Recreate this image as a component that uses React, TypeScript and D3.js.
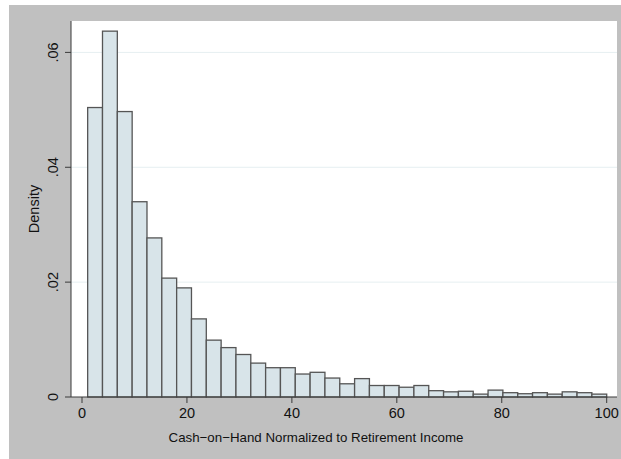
import * as d3 from "d3";

// histogram: 35 equal bins between the sample min and max
const binMin = 1.08;
const binMax = 100;
const densities = [
  0.0504, 0.0637, 0.0497, 0.034, 0.0277, 0.0207, 0.019, 0.0136, 0.0099,
  0.0086, 0.0074, 0.0059, 0.0051, 0.0051, 0.004, 0.0043, 0.0033, 0.0023,
  0.0032, 0.002, 0.002, 0.0017, 0.002, 0.0011, 0.0009, 0.001, 0.0005,
  0.0012, 0.00075, 0.00057, 0.00075, 0.0005, 0.0009, 0.00075, 0.0005,
];
const xTicks = [0, 20, 40, 60, 80, 100];
const yTicks = [0, 0.02, 0.04, 0.06];
const yTickLabels = ["0", ".02", ".04", ".06"];

const W = 621;
const H = 459;
const plot = { left: 71, right: 617, top: 21, bottom: 397 };
const font = "'Liberation Sans', Arial, Helvetica, sans-serif";

export default function App() {
  const x = d3.scaleLinear().domain([0, 100]).range([82, 606.7]);
  const y = d3.scaleLinear().domain([0, 0.06]).range([plot.bottom, 52.4]);
  const binW = (binMax - binMin) / densities.length;

  return (
    <div style={{ position: "fixed", top: 0, left: 0 }}>
      <svg width={W} height={H} style={{ display: "block", background: "#fff" }}>
        <rect x={9} y={5} width={W - 9} height={454} fill="#c0c0c0" />
        <rect
          x={plot.left}
          y={plot.top}
          width={plot.right - plot.left}
          height={plot.bottom - plot.top}
          fill="#fff"
        />
        {/* grid */}
        {yTicks.slice(1).map((t) => (
          <line
            key={t}
            x1={plot.left}
            x2={plot.right}
            y1={y(t)}
            y2={y(t)}
            stroke="#e6eff1"
            strokeWidth={1}
          />
        ))}
        {/* bars */}
        {densities.map((d, i) => {
          const x0 = x(binMin + i * binW);
          const x1 = x(binMin + (i + 1) * binW);
          return (
            <rect
              key={i}
              x={x0}
              y={y(d)}
              width={x1 - x0}
              height={plot.bottom - y(d)}
              fill="#d8e4e9"
              stroke="#555"
              strokeWidth={1.3}
            />
          );
        })}
        {/* axes */}
        <line x1={plot.left} x2={plot.left} y1={plot.top} y2={plot.bottom} stroke="#3a3a3a" />
        <line x1={plot.left} x2={plot.right} y1={plot.bottom} y2={plot.bottom} stroke="#3a3a3a" />
        {yTicks.map((t, i) => (
          <g key={t} transform={`translate(${plot.left},${y(t)})`}>
            <line x1={-6} x2={0} stroke="#3a3a3a" />
            <text
              transform="translate(-13,0) rotate(-90)"
              textAnchor="middle"
              fontFamily={font}
              fontSize={14.5}
              fill="#111"
            >
              {yTickLabels[i]}
            </text>
          </g>
        ))}
        {xTicks.map((t) => (
          <g key={t} transform={`translate(${x(t)},${plot.bottom})`}>
            <line y1={0} y2={6} stroke="#3a3a3a" />
            <text y={21} textAnchor="middle" fontFamily={font} fontSize={14.5} fill="#111">
              {t}
            </text>
          </g>
        ))}
        <text
          transform={`translate(38.5,${(plot.top + plot.bottom) / 2}) rotate(-90)`}
          textAnchor="middle"
          fontFamily={font}
          fontSize={14.5}
          fill="#111"
        >
          Density
        </text>
        <text x={316} y={442} textAnchor="middle" fontFamily={font} fontSize={13.3} fill="#111">
          Cash−on−Hand Normalized to Retirement Income
        </text>
      </svg>
    </div>
  );
}
